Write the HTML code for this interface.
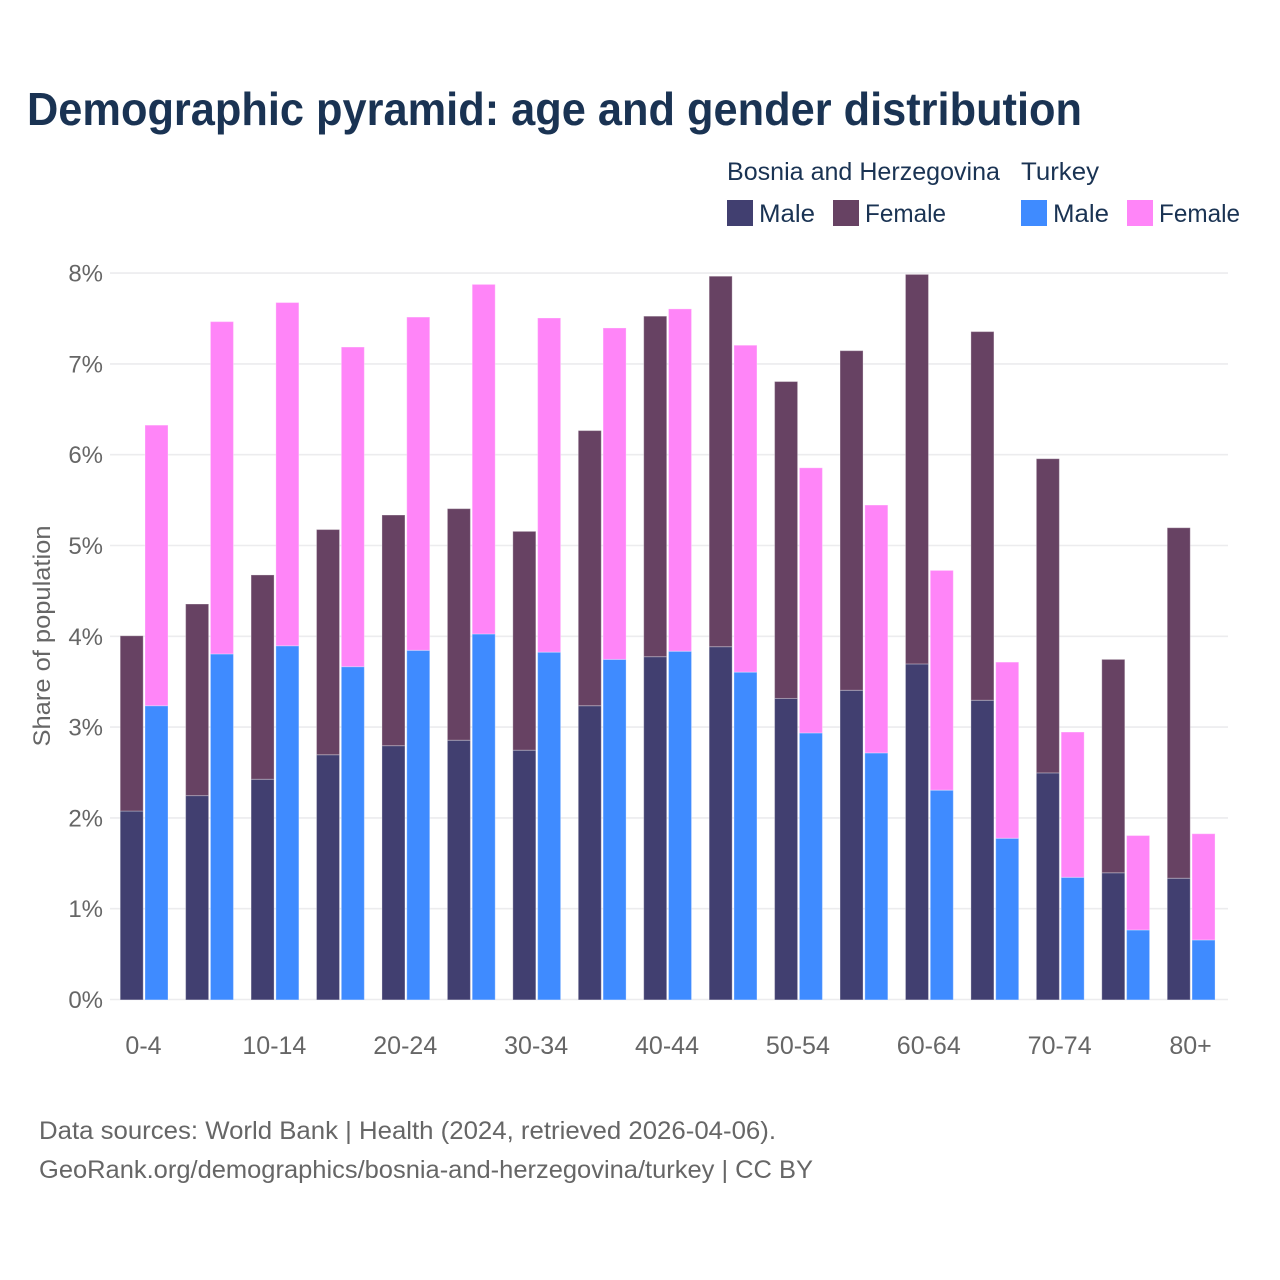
<!DOCTYPE html>
<html lang="en">
<head>
<meta charset="utf-8">
<title>Demographic pyramid</title>
<style>
html,body{margin:0;padding:0;background:#fff;width:1280px;height:1280px;overflow:hidden}
svg{display:block}
text{font-family:"Liberation Sans",sans-serif}
</style>
</head>
<body>
<svg id="chart" xmlns="http://www.w3.org/2000/svg" width="1280" height="1280" viewBox="0 0 1280 1280">
  <rect width="1280" height="1280" fill="#fff"/>
  <text x="27" y="125" font-size="46" font-weight="700" fill="#1a3353" textLength="1055" lengthAdjust="spacingAndGlyphs">Demographic pyramid: age and gender distribution</text>

  <g font-size="25" fill="#1a3353">
    <text x="727" y="180" textLength="273" lengthAdjust="spacingAndGlyphs">Bosnia and Herzegovina</text>
    <text x="1021" y="180" textLength="78" lengthAdjust="spacingAndGlyphs">Turkey</text>
    <rect x="727" y="200" width="26" height="26" fill="#413f70"/>
    <text x="759" y="222" textLength="56" lengthAdjust="spacingAndGlyphs">Male</text>
    <rect x="833" y="200" width="26" height="26" fill="#674263"/>
    <text x="865" y="222" textLength="81" lengthAdjust="spacingAndGlyphs">Female</text>
    <rect x="1021" y="200" width="26" height="26" fill="#3f8bff"/>
    <text x="1053" y="222" textLength="56" lengthAdjust="spacingAndGlyphs">Male</text>
    <rect x="1127" y="200" width="26" height="26" fill="#ff85f8"/>
    <text x="1159" y="222" textLength="81" lengthAdjust="spacingAndGlyphs">Female</text>
  </g>

  <g id="grid"></g>
  <g id="yticks"></g>
  <g id="bars"></g>
  <g id="xticks"></g>

  <text transform="translate(50 636) rotate(-90)" text-anchor="middle" font-size="24" fill="#666" textLength="221" lengthAdjust="spacingAndGlyphs">Share of population</text>

  <text x="39" y="1139" font-size="25" fill="#666" textLength="737" lengthAdjust="spacingAndGlyphs">Data sources: World Bank | Health (2024, retrieved 2026-04-06).</text>
  <text x="39" y="1178" font-size="25" fill="#666" textLength="774" lengthAdjust="spacingAndGlyphs">GeoRank.org/demographics/bosnia-and-herzegovina/turkey | CC BY</text>
</svg>
<script>
const categories = ['0-4','5-9','10-14','15-19','20-24','25-29','30-34','35-39','40-44','45-49','50-54','55-59','60-64','65-69','70-74','75-79','80+'];
const bosniaMale = [2.08,2.25,2.43,2.70,2.80,2.86,2.75,3.24,3.78,3.89,3.32,3.41,3.70,3.30,2.50,1.40,1.34];
const bosniaFemale = [1.93,2.11,2.25,2.48,2.54,2.55,2.41,3.03,3.75,4.08,3.49,3.74,4.29,4.06,3.46,2.35,3.86];
const turkeyMale = [3.24,3.81,3.90,3.67,3.85,4.03,3.83,3.75,3.84,3.61,2.94,2.72,2.31,1.78,1.35,0.77,0.66];
const turkeyFemale = [3.09,3.66,3.78,3.52,3.67,3.85,3.68,3.65,3.77,3.60,2.92,2.73,2.42,1.94,1.60,1.04,1.17];
const yTicks = [0,1,2,3,4,5,6,7,8];

const NS = 'http://www.w3.org/2000/svg';
const plotLeft = 110, plotRight = 1228, baseY = 999.5, pxPerUnit = 90.8;
const firstCenter = 144, step = 65.44, barW = 23, barGap = 1.8, barNudgeY = 0.4;
function yScale(v){ return baseY - v * pxPerUnit; }
function xCenter(i){ return firstCenter + i * step; }
function make(tag, attrs, parent){
  const el = document.createElementNS(NS, tag);
  for (const k in attrs) el.setAttribute(k, attrs[k]);
  parent.appendChild(el);
  return el;
}
const gridG = document.getElementById('grid');
const yG = document.getElementById('yticks');
const barsG = document.getElementById('bars');
const xG = document.getElementById('xticks');

yTicks.forEach(function(t){
  const line = make('line', {x1: plotLeft, x2: plotRight, y1: yScale(t), y2: yScale(t), stroke: '#ececee', 'stroke-width': 1.6}, gridG);
  
  
  const label = make('text', {x: 103, y: yScale(t) + 8.5, 'text-anchor': 'end', 'font-size': 24, fill: '#666'}, yG);
  
  
  label.textContent = t + '%';
});

function drawBar(x, v0, v1, fill, name){
  const r = make('rect', {x: x, y: yScale(v1) + barNudgeY, width: barW, height: yScale(v0) - yScale(v1), fill: fill, stroke: 'rgba(255,255,255,0.3)', 'stroke-width': 1}, barsG);
  
  
}
categories.forEach(function(c, i){
  const cx = xCenter(i);
  const xa = cx - barW - barGap / 2 + 0.1;
  const xb = cx + barGap / 2 + 0.1;
  drawBar(xa, 0, bosniaMale[i], '#413f70', 'bar-bosnia-male');
  drawBar(xa, bosniaMale[i], bosniaMale[i] + bosniaFemale[i], '#674263', 'bar-bosnia-female');
  drawBar(xb, 0, turkeyMale[i], '#3f8bff', 'bar-turkey-male');
  drawBar(xb, turkeyMale[i], turkeyMale[i] + turkeyFemale[i], '#ff85f8', 'bar-turkey-female');
  if (i % 2 === 0) {
    const label = make('text', {x: cx - 0.5, y: 1054, 'text-anchor': 'middle', 'font-size': 25, fill: '#666'}, xG);
    
    
    label.textContent = c;
  }
});
</script>
</body>
</html>
